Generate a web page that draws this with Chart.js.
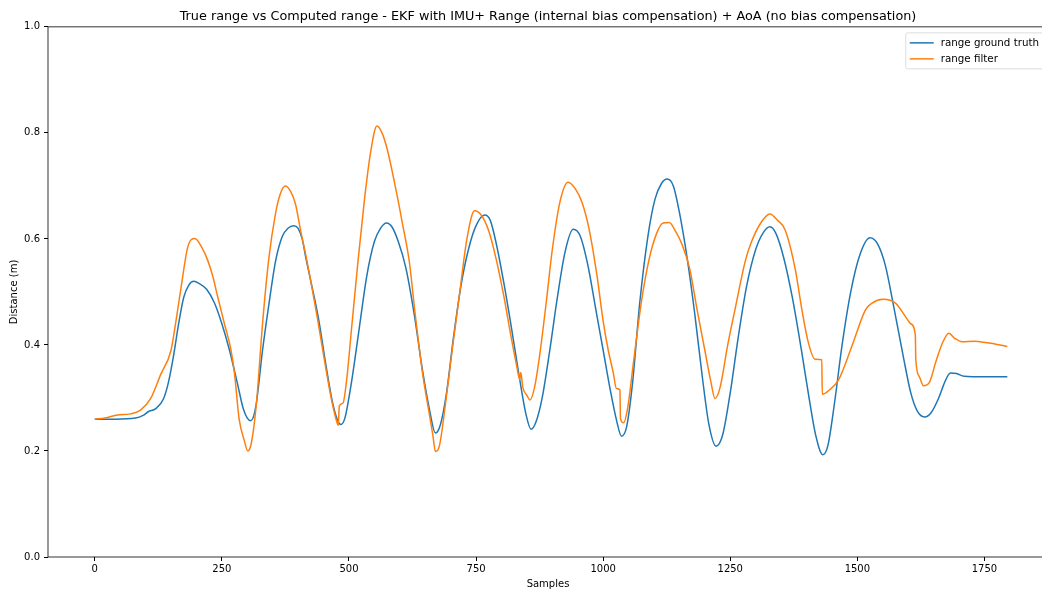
<!DOCTYPE html>
<html>
<head>
<meta charset="utf-8">
<script src="https://cdn.jsdelivr.net/npm/chart.js@4"></script>
<style>
  html, body { margin: 0; padding: 0; background: #fff; overflow: hidden; }
  #wrap { width: 1042px; height: 592px; overflow: hidden; }
</style>
</head>
<body>
<div id="wrap"><canvas id="myChart" width="1050" height="592"></canvas></div>
<script>
const title = 'True range vs Computed range - EKF with IMU+ Range (internal bias compensation) + AoA (no bias compensation)'
const seriesLabels = ['range ground truth', 'range filter']
const seriesColors = ['#1f77b4', '#ff7f0e']

const xTicks = [0, 250, 500, 750, 1000, 1250, 1500, 1750]
const yTicks = [0.0, 0.2, 0.4, 0.6, 0.8, 1.0]

const truthSamples = [0, 40, 80, 95, 105, 120, 135, 145, 155, 165, 175, 185, 195, 205, 220, 235, 250, 265, 280, 292,
  300, 307, 317, 330, 343, 356, 369, 380, 391, 400, 408, 415, 425, 440, 455, 468, 478, 484, 492, 505,
  520, 535, 550, 562, 574, 585, 597, 612, 628, 645, 658, 670, 680, 692, 705, 720, 735, 750, 767, 778,
  790, 805, 820, 835, 848, 858, 868, 880, 895, 910, 925, 941, 955, 970, 985, 1000, 1015, 1027, 1036, 1046,
  1058, 1072, 1088, 1102, 1115, 1126, 1138, 1150, 1165, 1180, 1195, 1208, 1222, 1235, 1250, 1265, 1282, 1300, 1315, 1328,
  1340, 1355, 1372, 1390, 1405, 1418, 1432, 1442, 1455, 1470, 1487, 1505, 1525, 1540, 1555, 1572, 1590, 1605, 1618, 1632,
  1645, 1660, 1672, 1683, 1695, 1710, 1750, 1795]
const truthRange = [0.260, 0.260, 0.262, 0.267, 0.274, 0.280, 0.298, 0.33, 0.38, 0.44, 0.49, 0.513, 0.520, 0.516, 0.505, 0.48, 0.44, 0.39, 0.33, 0.28,
  0.262, 0.257, 0.285, 0.39, 0.48, 0.56, 0.605, 0.62, 0.625, 0.62, 0.60, 0.565, 0.52, 0.45, 0.36, 0.29, 0.257, 0.250, 0.262, 0.33,
  0.43, 0.53, 0.595, 0.62, 0.630, 0.622, 0.595, 0.545, 0.46, 0.35, 0.28, 0.234, 0.25, 0.31, 0.41, 0.51, 0.58, 0.625, 0.645, 0.635,
  0.59, 0.515, 0.43, 0.34, 0.27, 0.241, 0.255, 0.30, 0.39, 0.49, 0.575, 0.618, 0.605, 0.55, 0.47, 0.39, 0.31, 0.255, 0.228, 0.245,
  0.33, 0.48, 0.605, 0.675, 0.705, 0.713, 0.70, 0.65, 0.565, 0.46, 0.34, 0.25, 0.209, 0.23, 0.31, 0.41, 0.51, 0.58, 0.612, 0.623,
  0.61, 0.565, 0.49, 0.39, 0.30, 0.23, 0.193, 0.21, 0.29, 0.40, 0.50, 0.57, 0.602, 0.59, 0.55, 0.47, 0.38, 0.31, 0.275, 0.264,
  0.272, 0.30, 0.33, 0.347, 0.346, 0.341, 0.340, 0.340]

const filterSamples = [0, 20, 45, 70, 90, 110, 130, 150, 160, 170, 183, 197, 210, 222, 232, 242, 255, 268, 275, 284,
  294, 301, 308, 318, 330, 342, 355, 365, 375, 385, 395, 405, 415, 425, 438, 452, 465, 476, 479, 481,
  488, 495, 505, 518, 530, 542, 555, 565, 575, 593, 605, 619, 630, 645, 658, 665, 670, 678, 690, 703,
  718, 732, 747, 760, 775, 790, 805, 818, 830, 836, 838, 842, 850, 856, 865, 875, 888, 900, 915, 931,
  945, 958, 972, 988, 1000, 1010, 1020, 1026, 1033, 1034, 1040, 1048, 1060, 1075, 1090, 1105, 1118, 1130, 1142, 1155,
  1170, 1185, 1200, 1212, 1220, 1230, 1245, 1260, 1280, 1292, 1310, 1328, 1343, 1358, 1378, 1391, 1404, 1417, 1430, 1431,
  1445, 1463, 1489, 1516, 1529, 1550, 1575, 1595, 1605, 1614, 1615, 1622, 1630, 1642, 1655, 1668, 1680, 1692, 1706, 1730,
  1755, 1775, 1795]
const filterRange = [0.260, 0.262, 0.268, 0.270, 0.277, 0.299, 0.345, 0.39, 0.447, 0.51, 0.585, 0.601, 0.585, 0.56, 0.53, 0.49, 0.44, 0.39, 0.345, 0.26,
  0.22, 0.200, 0.215, 0.29, 0.44, 0.56, 0.645, 0.685, 0.700, 0.69, 0.665, 0.615, 0.57, 0.52, 0.45, 0.37, 0.30, 0.255, 0.248, 0.285,
  0.29, 0.33, 0.43, 0.56, 0.67, 0.76, 0.813, 0.80, 0.77, 0.69, 0.63, 0.555, 0.46, 0.345, 0.27, 0.23, 0.199, 0.21, 0.29, 0.39,
  0.50, 0.60, 0.653, 0.645, 0.615, 0.56, 0.49, 0.42, 0.36, 0.335, 0.348, 0.32, 0.305, 0.296, 0.32, 0.38, 0.48, 0.58, 0.67, 0.707,
  0.695, 0.67, 0.62, 0.53, 0.445, 0.39, 0.347, 0.318, 0.315, 0.262, 0.253, 0.28, 0.37, 0.48, 0.56, 0.61, 0.63, 0.631, 0.615, 0.59,
  0.545, 0.465, 0.39, 0.33, 0.299, 0.32, 0.40, 0.47, 0.56, 0.595, 0.63, 0.647, 0.635, 0.617, 0.542, 0.466, 0.403, 0.373, 0.372, 0.307,
  0.315, 0.334, 0.397, 0.466, 0.479, 0.486, 0.479, 0.453, 0.44, 0.419, 0.372, 0.34, 0.323, 0.33, 0.37, 0.405, 0.422, 0.412, 0.406, 0.407,
  0.404, 0.401, 0.397]

const toPoints = (xs, ys) => xs.map((x, i) => ({ x: x, y: ys[i] }))

const FONT = 'DejaVu Sans'

// box around the axes, drawn above the lines like matplotlib spines
const frame = {
  id: 'frame',
  afterDatasetsDraw(chart) {
    const a = chart.chartArea, ctx = chart.ctx
    ctx.save()
    ctx.strokeStyle = '#000'
    ctx.lineWidth = 0.8
    ctx.strokeRect(a.left, a.top, a.right - a.left, a.bottom - a.top)
    ctx.restore()
  }
}

// matplotlib style legend in the upper right corner
const mplLegend = {
  id: 'mplLegend',
  afterDraw(chart) {
    const a = chart.chartArea, ctx = chart.ctx
    const sets = chart.data.datasets
    ctx.save()
    ctx.font = '10.3px ' + FONT
    const w = Math.max(...sets.map(d => ctx.measureText(d.label).width)) + 40
    const h = 36
    const x = a.right - 4 - w, y = a.top + 6
    ctx.beginPath()
    ctx.roundRect(x, y, w, h, 2)
    ctx.fillStyle = 'rgba(255,255,255,0.8)'
    ctx.fill()
    ctx.strokeStyle = '#d6d6d6'
    ctx.lineWidth = 0.8
    ctx.stroke()
    sets.forEach((d, i) => {
      const ly = y + 10 + i * 16
      ctx.strokeStyle = d.borderColor
      ctx.lineWidth = 1.5
      ctx.beginPath()
      ctx.moveTo(x + 4, ly)
      ctx.lineTo(x + 28, ly)
      ctx.stroke()
      ctx.fillStyle = '#000'
      ctx.textBaseline = 'middle'
      ctx.fillText(d.label, x + 35, ly)
    })
    ctx.restore()
  }
}

new Chart('myChart', {
  type: 'scatter',
  data: {
    datasets: [{
      label: seriesLabels[0],
      data: toPoints(truthSamples, truthRange),
      borderColor: seriesColors[0],
      order: 1
    }, {
      label: seriesLabels[1],
      data: toPoints(filterSamples, filterRange),
      borderColor: seriesColors[1],
      order: 0
    }]
  },
  options: {
    responsive: false,
    animation: false,
    devicePixelRatio: 1,
    layout: { padding: { top: 0, left: 0, right: 2, bottom: 0 } },
    datasets: {
      scatter: {
        showLine: true,
        pointRadius: 0,
        borderWidth: 1.5,
        cubicInterpolationMode: 'monotone'
      }
    },
    plugins: {
      legend: { display: false },
      tooltip: { enabled: false },
      title: {
        display: true,
        text: title,
        fullSize: false,
        color: '#000',
        font: { family: FONT, size: 12.8, weight: 'normal' },
        padding: { top: 9, bottom: 2.5 }
      }
    },
    scales: {
      x: {
        type: 'linear',
        min: -92,
        max: 1875,
        afterFit: s => { s.height = 35 },
        afterBuildTicks: s => { s.ticks = xTicks.map(v => ({ value: v })) },
        grid: { drawOnChartArea: false, drawTicks: true, tickLength: 4, color: '#000' },
        border: { display: false },
        ticks: { color: '#000', padding: 2, maxRotation: 0, font: { family: FONT, size: 10 }, callback: v => String(v) },
        title: { display: true, text: 'Samples', color: '#000', font: { family: FONT, size: 10 }, padding: { top: 0, bottom: 2 } }
      },
      y: {
        type: 'linear',
        min: 0,
        max: 1,
        afterFit: s => { s.width = 48 },
        afterBuildTicks: s => { s.ticks = yTicks.map(v => ({ value: v })) },
        grid: { drawOnChartArea: false, drawTicks: true, tickLength: 4, color: '#000' },
        border: { display: false },
        ticks: { color: '#000', padding: 4, font: { family: FONT, size: 10 }, callback: v => v.toFixed(1) },
        title: { display: true, text: 'Distance (m)', color: '#000', font: { family: FONT, size: 10 }, padding: { top: 8, bottom: 0 } }
      }
    }
  },
  plugins: [frame, mplLegend]
})
</script>
</body>
</html>
